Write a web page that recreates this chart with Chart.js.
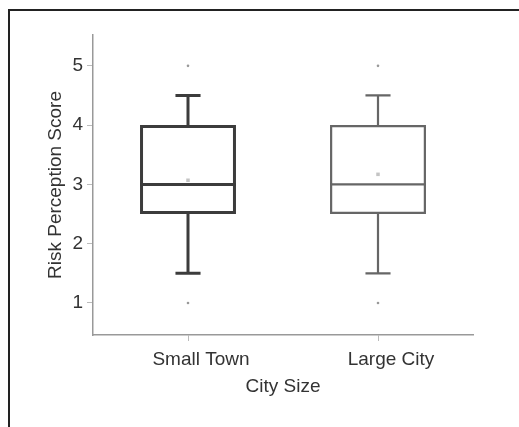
<!DOCTYPE html>
<html>
<head>
<meta charset="utf-8">
<script src="https://cdn.jsdelivr.net/npm/chart.js@4"></script>
<style>
    html, body { margin: 0; padding: 0; background: #fff; }
    #wrap { position: relative; width: 519px; height: 427px; overflow: hidden; }
    #frame {
        position: absolute; left: 8px; top: 9px; width: 520px; height: 430px;
        border-left: 2px solid #222; border-top: 2px solid #222;
    }
    canvas { position: absolute; left: 0; top: 0; }
</style>
</head>
<body>
<div id="wrap">
    <div id="frame"></div>
    <canvas id="chart" width="519" height="427"></canvas>
</div>
<script>
// data
const categories = ['Small Town', 'Large City'];
const whiskerLow = [1.5, 1.5];
const q1 = [2.5, 2.5];
const median = [3, 3];
const q3 = [4, 4];
const whiskerHigh = [4.5, 4.5];
const means = [3.07, 3.17];
const lowOutliers = [1, 1];
const highOutliers = [5, 5];
const yTicks = [1, 2, 3, 4, 5];

const boxColors = ['#3c3c3c', '#666666'];
const boxWidths = [3, 2.2];
const fontFamily = "'Liberation Sans', Arial, sans-serif";

// whiskers, caps and medians, placed through the chart scales
const boxLines = {
    id: 'boxLines',
    afterDatasetsDraw(chart) {
        const ctx = chart.ctx;
        const xs = chart.scales.x;
        const ys = chart.scales.y;
        const bars = chart.getDatasetMeta(0).data;
        const catW = xs.getPixelForValue(1) - xs.getPixelForValue(0);
        ctx.save();
        categories.forEach((c, i) => {
            const cx = xs.getPixelForValue(i);
            const half = bars[i].width / 2;
            const cap = catW * 0.066;
            ctx.strokeStyle = boxColors[i];
            ctx.lineWidth = boxWidths[i];
            ctx.beginPath();
            // whiskers
            ctx.moveTo(cx, ys.getPixelForValue(q3[i]));
            ctx.lineTo(cx, ys.getPixelForValue(whiskerHigh[i]));
            ctx.moveTo(cx, ys.getPixelForValue(q1[i]));
            ctx.lineTo(cx, ys.getPixelForValue(whiskerLow[i]));
            // caps
            ctx.moveTo(cx - cap, ys.getPixelForValue(whiskerHigh[i]));
            ctx.lineTo(cx + cap, ys.getPixelForValue(whiskerHigh[i]));
            ctx.moveTo(cx - cap, ys.getPixelForValue(whiskerLow[i]));
            ctx.lineTo(cx + cap, ys.getPixelForValue(whiskerLow[i]));
            // median
            ctx.moveTo(cx - half, ys.getPixelForValue(median[i]));
            ctx.lineTo(cx + half, ys.getPixelForValue(median[i]));
            ctx.stroke();
        });
        ctx.restore();
    }
};

new Chart(document.getElementById('chart'), {
    type: 'bar',
    data: {
        labels: categories,
        datasets: [
            {
                label: 'IQR',
                data: categories.map((c, i) => [q1[i], q3[i]]),
                backgroundColor: 'rgba(255,255,255,0)',
                borderColor: boxColors,
                borderWidth: boxWidths,
                borderSkipped: false,
                barPercentage: 0.505,
                categoryPercentage: 1,
                grouped: false,
                order: 1
            },
            {
                type: 'line',
                label: 'Mean',
                data: means,
                showLine: false,
                pointStyle: 'rect',
                pointRadius: 2.5,
                pointBackgroundColor: '#c4c4c4',
                pointBorderColor: '#c4c4c4',
                borderWidth: 0
            },
            {
                type: 'line',
                label: 'Low outliers',
                data: lowOutliers,
                showLine: false,
                pointRadius: 1.3,
                pointBackgroundColor: '#999',
                pointBorderColor: '#999',
                borderWidth: 0
            },
            {
                type: 'line',
                label: 'High outliers',
                data: highOutliers,
                showLine: false,
                pointRadius: 1.3,
                pointBackgroundColor: '#999',
                pointBorderColor: '#999',
                borderWidth: 0
            }
        ]
    },
    options: {
        responsive: false,
        animation: false,
        layout: { padding: { left: 44, right: 46, top: 35, bottom: 29 } },
        plugins: {
            legend: { display: false },
            tooltip: { enabled: false }
        },
        scales: {
            x: {
                offset: true,
                grid: { offset: false, drawOnChartArea: false, drawTicks: true, tickLength: 6, color: '#bbb' },
                border: { color: '#999', width: 1.5 },
                ticks: { color: '#333', padding: 7, labelOffset: 13, font: { family: fontFamily, size: 19 } },
                title: {
                    display: true, text: 'City Size', color: '#333', padding: 0,
                    font: { family: fontFamily, size: 19 }
                },
                afterFit: scale => { scale.height = 63; }
            },
            y: {
                min: 0.46,
                max: 5.52,
                afterBuildTicks: scale => { scale.ticks = yTicks.map(v => ({ value: v })); },
                grid: { drawOnChartArea: false, drawTicks: true, tickLength: 6, color: '#bbb' },
                border: { color: '#999', width: 1.5 },
                ticks: { color: '#333', padding: 4, font: { family: fontFamily, size: 19 } },
                title: {
                    display: true, text: 'Risk Perception Score', color: '#333', padding: 0,
                    font: { family: fontFamily, size: 19 }
                },
                afterFit: scale => { scale.width = 49; }
            }
        }
    },
    plugins: [boxLines]
});
</script>
</body>
</html>
